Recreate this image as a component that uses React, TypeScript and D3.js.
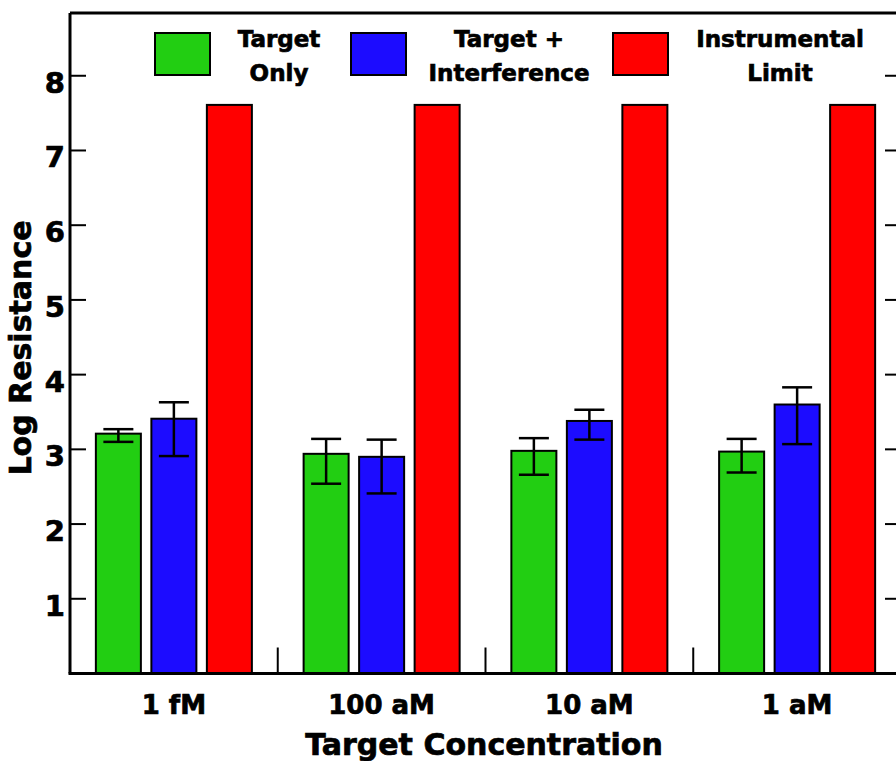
import React from "react";
import * as d3 from "d3";

const categories = ["1 fM", "100 aM", "10 aM", "1 aM"];
const seriesNames = ["Target Only", "Target + Interference", "Instrumental Limit"];
const legendLines = [["Target", "Only"], ["Target +", "Interference"], ["Instrumental", "Limit"]];
const colors = ["#22CE12", "#1C0CFF", "#FF0000"];

const targetOnly = [3.21, 2.94, 2.98, 2.97];
const targetOnlyLow = [3.10, 2.54, 2.66, 2.69];
const targetOnlyHigh = [3.27, 3.14, 3.15, 3.14];

const targetInterf = [3.41, 2.90, 3.38, 3.60];
const targetInterfLow = [2.91, 2.41, 3.13, 3.07];
const targetInterfHigh = [3.63, 3.13, 3.53, 3.83];

const instrumentalLimit = [7.61, 7.61, 7.61, 7.61];

const yTicks = [1, 2, 3, 4, 5, 6, 7, 8];

const FONT = "'DejaVu Sans', sans-serif";

export default function App() {
  const width = 896;
  const height = 761;
  const left = 70;
  const right = 901;
  const top = 13;

  const x = d3.scaleBand<string>().domain(categories).range([left, right]).padding(0);
  const xs = d3
    .scaleBand<string>()
    .domain(seriesNames)
    .range([0, x.bandwidth()])
    .paddingInner(0.189)
    .paddingOuter(0.466);
  const y = d3.scaleLinear().domain([0, 8.84]).range([673.5, top]);

  const values = [targetOnly, targetInterf, instrumentalLimit];
  const lows = [targetOnlyLow, targetInterfLow, null];
  const highs = [targetOnlyHigh, targetInterfHigh, null];

  const bars: any[] = [];
  categories.forEach((c, i) => {
    seriesNames.forEach((s, j) => {
      bars.push({ c, s, j, v: values[j][i], lo: lows[j] ? lows[j]![i] : null, hi: highs[j] ? highs[j]![i] : null });
    });
  });

  const legendX = [155, 351, 613];
  const legendTextX = [279, 509, 780];
  const capW = 15;

  // heavier lettering, like the original
  const txt = { stroke: "#000", strokeWidth: 0.7 };

  return (
    <svg
      width={width}
      height={height}
      style={{ position: "absolute", left: 0, top: 0, background: "#fff" }}
      fontFamily={FONT}
      fontWeight="bold"
    >
      {/* bars */}
      {bars.map((b, k) => {
        const bx = (x(b.c) as number) + (xs(b.s) as number);
        return (
          <rect
            key={"b" + k}
            x={bx}
            y={y(b.v)}
            width={xs.bandwidth()}
            height={y(0) - y(b.v)}
            fill={colors[b.j]}
            stroke="#000"
            strokeWidth={2}
          />
        );
      })}
      {/* error bars */}
      {bars
        .filter((b) => b.lo !== null)
        .map((b, k) => {
          const cx = (x(b.c) as number) + (xs(b.s) as number) + xs.bandwidth() / 2;
          return (
            <g key={"e" + k} stroke="#000" strokeWidth={2.5}>
              <line x1={cx} x2={cx} y1={y(b.hi)} y2={y(b.lo)} />
              <line x1={cx - capW} x2={cx + capW} y1={y(b.hi)} y2={y(b.hi)} />
              <line x1={cx - capW} x2={cx + capW} y1={y(b.lo)} y2={y(b.lo)} />
            </g>
          );
        })}
      {/* frame */}
      <line x1={left} x2={right} y1={top} y2={top} stroke="#000" strokeWidth={3} />
      <line x1={left} x2={left} y1={top} y2={y(0)} stroke="#000" strokeWidth={3} />
      <line x1={right} x2={right} y1={top} y2={y(0)} stroke="#000" strokeWidth={3} />
      <line x1={left - 1.5} x2={right} y1={y(0)} y2={y(0)} stroke="#000" strokeWidth={3} />
      {/* y ticks */}
      {yTicks.map((t) => (
        <g key={"t" + t}>
          <line x1={left} x2={left + 16} y1={y(t)} y2={y(t)} stroke="#000" strokeWidth={2} />
          <line x1={right - 16} x2={right} y1={y(t)} y2={y(t)} stroke="#000" strokeWidth={2} />
          <text x={65} y={y(t) + 17} textAnchor="end" fontSize={29} {...txt}>
            {t}
          </text>
        </g>
      ))}
      {/* x separators */}
      {categories.slice(1).map((c) => (
        <line
          key={"s" + c}
          x1={x(c) as number}
          x2={x(c) as number}
          y1={y(0)}
          y2={y(0) - 26}
          stroke="#000"
          strokeWidth={2}
        />
      ))}
      {/* x labels */}
      {categories.map((c) => (
        <text key={"l" + c} x={(x(c) as number) + x.bandwidth() / 2} y={714} textAnchor="middle" fontSize={26} {...txt}>
          {c}
        </text>
      ))}
      <text x={484} y={755} textAnchor="middle" fontSize={30} {...txt}>
        Target Concentration
      </text>
      <text transform="translate(31,348) rotate(-90)" textAnchor="middle" fontSize={30} {...txt}>
        Log Resistance
      </text>
      {/* legend */}
      {seriesNames.map((s, j) => (
        <g key={"lg" + j}>
          <rect x={legendX[j]} y={33} width={55} height={42} fill={colors[j]} stroke="#000" strokeWidth={2} />
          {legendLines[j].map((ln, li) => (
            <text key={li} x={legendTextX[j]} y={47 + li * 34} textAnchor="middle" fontSize={23} {...txt}>
              {ln}
            </text>
          ))}
        </g>
      ))}
    </svg>
  );
}
